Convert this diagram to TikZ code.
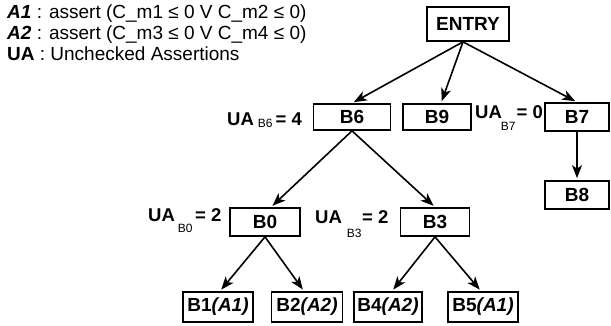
\documentclass[tikz,border=0pt]{standalone}
\usepackage{fontspec}
\setmainfont{Liberation Sans}
\usetikzlibrary{arrows.meta}
\tikzset{
  blk/.style={draw, line width=1.7pt, inner sep=0pt, font=\bfseries\fontsize{19}{19}\selectfont},
  arr/.style={line width=1.6pt, -{Stealth[length=13pt,width=10pt,inset=3.5pt]}, shorten >=2pt},
  legend/.style={anchor=base west, inner sep=0pt, font=\fontsize{19}{19}\selectfont},
  ualabel/.style={anchor=base west, inner sep=0pt, font=\bfseries\fontsize{18.5}{18.5}\selectfont}
}
\newcommand{\subtx}[1]{{\mdseries\fontsize{12}{12}\selectfont #1}}
\begin{document}
\begin{tikzpicture}[x=1pt,y=-1pt]
\useasboundingbox (0,0) rectangle (611,325);
% legend
\node[legend] (l1) at (7,18) {\textbf{\textit{A1}} : assert (C\_m1 ≤ 0 V C\_m2 ≤ 0)};
\node[legend] (l2) at (7,39) {\textbf{\textit{A2}} : assert (C\_m3 ≤ 0 V C\_m4 ≤ 0)};
\node[legend] (l3) at (7,60) {\textbf{UA} : Unchecked Assertions};
% blocks
\node[blk, minimum width=82pt, minimum height=34pt] (entry) at (468,24) {ENTRY};
\node[blk, minimum width=77pt, minimum height=26pt] (b6) at (352,117) {B6};
\node[blk, minimum width=68pt, minimum height=26pt] (b9) at (437,117) {B9};
\node[blk, minimum width=64pt, minimum height=28pt] (b7) at (577,117) {B7};
\node[blk, minimum width=64pt, minimum height=28pt] (b8) at (577,195) {B8};
\node[blk, minimum width=70pt, minimum height=28pt] (b0) at (265,222) {B0};
\node[blk, minimum width=69pt, minimum height=28pt] (b3) at (435,222) {B3};
\node[blk, minimum width=70pt, minimum height=30pt] (b1) at (218,307) {B1\textit{(A1)}};
\node[blk, minimum width=71pt, minimum height=30pt] (b2) at (307,307) {B2\textit{(A2)}};
\node[blk, minimum width=68pt, minimum height=30pt] (b4) at (388,307) {B4\textit{(A2)}};
\node[blk, minimum width=70pt, minimum height=30pt] (b5) at (483,307) {B5\textit{(A1)}};
% UA labels
\node[ualabel] (ua6) at (227,125) {UA\hspace{4pt}\raisebox{-2pt}{\subtx{B6}}\hspace{3pt}= 4};
\node[ualabel] (ua7) at (475,118) {UA\hspace{-1pt}\raisebox{-12pt}{\subtx{B7}}\hspace{1pt}= 0};
\node[ualabel] (ua0) at (148,221) {UA\hspace{3pt}\raisebox{-11pt}{\subtx{B0}}\hspace{2.5pt}= 2};
\node[ualabel] (ua3) at (315,223) {UA\hspace{5pt}\raisebox{-14pt}{\subtx{B3}}\hspace{0.5pt}= 2};
% connectors
\coordinate (es) at ([xshift=-5pt]entry.south);
\draw[arr] (es) -- (b6.north);
\draw[arr] (es) -- ([xshift=4pt]b9.north);
\draw[arr] (es) -- (b7.north);
\draw[arr] (b6.south) -- ([xshift=6pt]b0.north);
\draw[arr] (b6.south) -- (b3.north);
\draw[arr] (b7.south) -- (b8.north);
\draw[arr] (b0.south) -- ([xshift=2pt]b1.north);
\draw[arr] (b0.south) -- ([xshift=-3pt]b2.north);
\draw[arr] (b3.south) -- ([xshift=4pt]b4.north);
\draw[arr] (b3.south) -- ([xshift=-2pt]b5.north);
\end{tikzpicture}
\end{document}
